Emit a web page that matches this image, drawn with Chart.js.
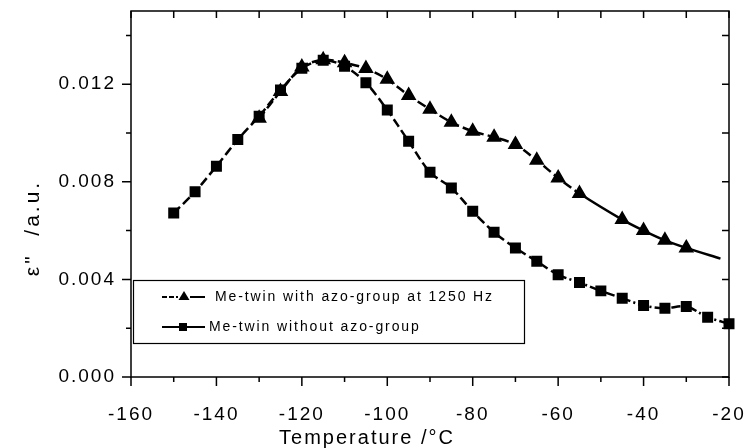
<!DOCTYPE html>
<html>
<head>
<meta charset="utf-8">
<script src="https://cdn.jsdelivr.net/npm/chart.js@4"></script>
<style>
  body { margin: 0; background: #fff; }
  #wrap { width: 747px; height: 448px; }
</style>
</head>
<body>
<div id="wrap"><canvas id="chart"></canvas></div>
<script>
// data
const azoTemps = [-130, -125, -120, -115, -110, -105, -100, -95, -90, -85, -80, -75, -70, -65, -60, -55, -45, -40, -35, -30, -22];
const azoValues = [0.0106, 0.0117, 0.0127, 0.0130, 0.01288, 0.01264, 0.0122, 0.01154, 0.01097, 0.01044, 0.01007, 0.00983, 0.00953, 0.00888, 0.00816, 0.00752, 0.00645, 0.00600, 0.0056, 0.00529, 0.00485];

const plainTemps = [-150, -145, -140, -135, -130, -125, -120, -115, -110, -105, -100, -95, -90, -85, -80, -75, -70, -65, -60, -55, -50, -45, -40, -35, -30, -25, -20];
const plainValues = [0.00672, 0.00759, 0.00864, 0.00973, 0.01069, 0.01176, 0.01265, 0.01298, 0.01274, 0.01206, 0.01094, 0.00966, 0.00839, 0.00775, 0.00679, 0.00593, 0.00529, 0.00474, 0.00419, 0.00387, 0.00353, 0.00323, 0.00293, 0.00282, 0.00289, 0.00245, 0.00218];

const xTicks = [-160, -150, -140, -130, -120, -110, -100, -90, -80, -70, -60, -50, -40, -30, -20];
const yTicks = [0, 0.002, 0.004, 0.006, 0.008, 0.010, 0.012, 0.014];

const seriesNames = ['Me-twin with azo-group at 1250 Hz', 'Me-twin without azo-group'];

const FONT = '"Liberation Sans", Arial, sans-serif';

// frame, inward/outward ticks, titles and the boxed legend
const framePlugin = {
  id: 'frame',
  beforeDraw(chart) {
    const ctx = chart.ctx;
    ctx.fillStyle = '#fff';
    ctx.fillRect(0, 0, chart.width, chart.height);
    ctx.letterSpacing = '2px';
  },
  beforeDatasetsDraw(chart) {
    const ctx = chart.ctx;
    const { left, right, top, bottom } = chart.chartArea;
    const xs = chart.scales.x, ys = chart.scales.y;
    ctx.save();
    ctx.strokeStyle = '#000';
    ctx.lineWidth = 1.5;
    ctx.strokeRect(left, top, right - left, bottom - top);
    ctx.beginPath();
    xTicks.forEach(v => {
      const px = xs.getPixelForValue(v);
      const major = v % 20 === 0;
      ctx.moveTo(px, bottom); ctx.lineTo(px, bottom + (major ? 9 : 5));
      ctx.moveTo(px, top); ctx.lineTo(px, top + 7);
    });
    yTicks.forEach((v, i) => {
      const py = ys.getPixelForValue(v);
      const major = i % 2 === 0;
      ctx.moveTo(left, py); ctx.lineTo(left - (major ? 9 : 5), py);
      ctx.moveTo(right, py); ctx.lineTo(right - 7, py);
    });
    ctx.stroke();
    ctx.restore();
  },
  afterDraw(chart) {
    const ctx = chart.ctx;
    ctx.save();
    ctx.fillStyle = '#000';
    ctx.strokeStyle = '#000';

    // axis titles
    ctx.font = '20px ' + FONT;
    ctx.letterSpacing = '2px';
    ctx.textAlign = 'center';
    ctx.textBaseline = 'middle';
    ctx.fillText('Temperature /°C', 367, 438);
    ctx.save();
    ctx.translate(33, 228);
    ctx.rotate(-Math.PI / 2);
    ctx.font = '21px ' + FONT;
    ctx.letterSpacing = '3px';
    ctx.fillText('ε"  /a.u.', 0, 0);
    ctx.restore();

    // legend box
    ctx.lineWidth = 1.2;
    ctx.strokeRect(133.5, 280.5, 391, 63);
    ctx.lineWidth = 2;
    ctx.font = '14px ' + FONT;
    ctx.letterSpacing = '1.9px';
    ctx.textAlign = 'left';

    // entry 1: triangle
    ctx.beginPath();
    ctx.setLineDash([5, 2]);
    ctx.moveTo(162, 297); ctx.lineTo(178, 297);
    ctx.stroke();
    ctx.setLineDash([]);
    ctx.beginPath();
    ctx.moveTo(190, 297); ctx.lineTo(205, 297);
    ctx.stroke();
    ctx.beginPath();
    ctx.moveTo(184, 291); ctx.lineTo(189.5, 300); ctx.lineTo(178.5, 300); ctx.closePath();
    ctx.fill();
    ctx.fillText(seriesNames[0], 215, 297);

    // entry 2: square
    ctx.beginPath();
    ctx.moveTo(162, 327); ctx.lineTo(205, 327);
    ctx.stroke();
    ctx.fillRect(179, 323, 8, 8);
    ctx.fillText(seriesNames[1], 209, 327);
    ctx.restore();
  }
};

new Chart(document.getElementById('chart'), {
  type: 'line',
  data: {
    datasets: [{
      label: seriesNames[0],
      data: azoTemps.map((t, i) => ({ x: t, y: azoValues[i] })),
      borderColor: '#000',
      backgroundColor: '#000',
      borderWidth: 2.5,
      borderDash: [9, 4],
      tension: 0.3,
      pointStyle: 'triangle',
      pointRadius: azoTemps.map((t, i) => i === azoTemps.length - 1 ? 0 : 6.5),
      segment: {
        borderDash: c => c.p0.parsed.x >= -55 ? [] : [9, 4]
      },
      clip: 10
    }, {
      label: seriesNames[1],
      data: plainTemps.map((t, i) => ({ x: t, y: plainValues[i] })),
      borderColor: '#000',
      backgroundColor: '#000',
      borderWidth: 2.5,
      borderDash: [9, 4],
      tension: 0.3,
      pointStyle: 'rect',
      pointRadius: 6,
      segment: {
        borderDash: c => c.p0.parsed.x >= -60 ? [9, 3, 2, 3] : [9, 4]
      },
      clip: 10
    }]
  },
  options: {
    responsive: true,
    maintainAspectRatio: false,
    animation: false,
    layout: { padding: { top: 11, right: 18, left: 0, bottom: 0 } },
    plugins: {
      legend: { display: false },
      tooltip: { enabled: false }
    },
    scales: {
      x: {
        type: 'linear',
        min: -160,
        max: -20,
        afterBuildTicks: s => { s.ticks = xTicks.map(v => ({ value: v })); },
        afterFit: s => { s.height = 71; s.paddingLeft = 0; s.paddingRight = 0; },
        grid: { display: false },
        border: { display: false },
        ticks: {
          color: '#000',
          font: { family: FONT, size: 19 },
          padding: 18,
          maxRotation: 0,
          autoSkip: false,
          callback: v => v % 20 === 0 ? String(v) : ''
        }
      },
      y: {
        min: 0,
        max: 0.015,
        afterBuildTicks: s => { s.ticks = yTicks.map(v => ({ value: v })); },
        afterFit: s => { s.width = 131; s.paddingTop = 0; s.paddingBottom = 0; },
        grid: { display: false },
        border: { display: false },
        ticks: {
          color: '#000',
          font: { family: FONT, size: 19 },
          padding: 7,
          autoSkip: false,
          callback: (v, i) => i % 2 === 0 ? v.toFixed(3) : ''
        }
      }
    }
  },
  plugins: [framePlugin]
});
</script>
</body>
</html>
